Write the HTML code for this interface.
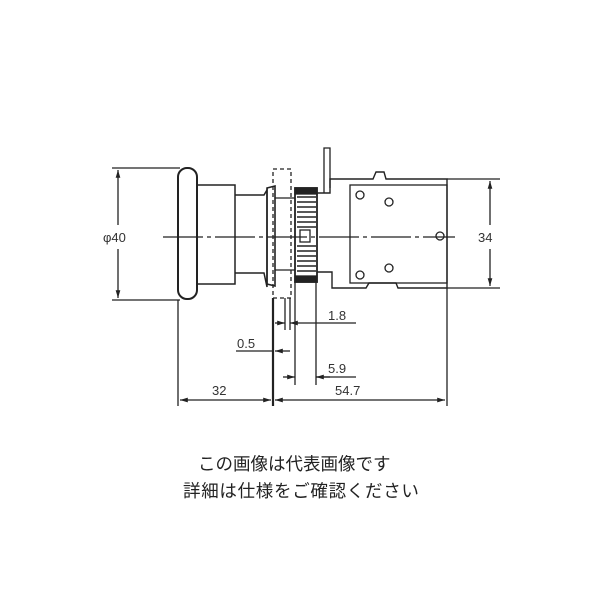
<!DOCTYPE html>
<html><head><meta charset="utf-8"><style>
body{margin:0;background:#fff;width:600px;height:600px;overflow:hidden}
svg{position:absolute;left:0;top:0}
.t{position:absolute;font-family:"Liberation Sans","Noto Sans CJK JP",sans-serif;font-size:17.5px;color:#222;white-space:nowrap;line-height:1}
</style></head><body>
<svg width="600" height="600" viewBox="0 0 600 600" fill="none" stroke="#222" stroke-width="1.3">
<defs><marker id="a" viewBox="0 0 10 10" refX="10" refY="5" markerWidth="6" markerHeight="6" orient="auto-start-reverse"><path d="M0,2L10,5L0,8z" fill="#222" stroke="none"/></marker></defs>
<rect x="178" y="168" width="19" height="131" rx="9" stroke-width="2"/>
<rect x="197" y="185" width="38" height="99" stroke-width="1.5"/>
<path d="M235 195H264L267 190V287L264 273H235" stroke-width="1.5"/>
<path d="M267 188L275 186V286L267 284Z" stroke-width="1.6"/>
<rect x="273" y="169" width="18" height="129" stroke-dasharray="4,3"/>
<path d="M275 198H295M275 270H295"/>
<rect x="295" y="188" width="22" height="94" stroke-width="1.8"/>
<rect x="295" y="188" width="22" height="6" fill="#222"/>
<rect x="295" y="276" width="22" height="6" fill="#222"/>
<g stroke-width="1.5">
<path d="M297 197H316M297 202H316M297 207H316M297 212H316M297 217H316M297 222H316M297 227H316M297 246H316M297 251H316M297 256H316M297 261H316M297 266H316M297 271H316"/>
</g>
<rect x="300" y="230" width="10" height="12"/>
<path d="M324 193V148H330V188"/>
<path d="M317 193H330V179H373L376 172H384L386 179H396L398 179H447V288H398L396 283H369L366 288H332V272H317" stroke-width="1.4"/>
<rect x="350" y="185" width="97" height="98" stroke-width="1.3"/>
<g stroke-width="1.3"><circle cx="360" cy="195" r="4"/><circle cx="389" cy="202" r="4"/><circle cx="360" cy="275" r="4"/><circle cx="389" cy="268" r="4"/><circle cx="440" cy="236" r="4"/></g>
<path d="M163 237H455" stroke-dasharray="40,4,4,4" stroke-width="1.2"/>
<path d="M112 168H180M112 300H180"/>
<path d="M118 225V170" marker-end="url(#a)"/><path d="M118 249V298" marker-end="url(#a)"/>
<path d="M447 179H500M447 288H500"/>
<path d="M490 225V181" marker-end="url(#a)"/><path d="M490 249V286" marker-end="url(#a)"/>
<path d="M178 300V406M447 288V406M290 298V330M285 298V330M295 282V385M316 282V385"/>
<path d="M273 298V406" stroke-width="2.2"/>
<path d="M180 400H271" marker-start="url(#a)" marker-end="url(#a)"/>
<path d="M275 400H445" marker-start="url(#a)" marker-end="url(#a)"/>
<path d="M275 323H285" marker-end="url(#a)"/><path d="M300 323H290" marker-end="url(#a)"/><path d="M300 323H356"/>
<path d="M236 351H273" /><path d="M290 351H275" marker-end="url(#a)"/>
<path d="M283 377H295" marker-end="url(#a)"/><path d="M330 377H316" marker-end="url(#a)"/><path d="M316 377H356"/>
<g font-family="Liberation Sans,sans-serif" font-size="13" fill="#333" stroke="none">
<text x="103" y="242">φ40</text>
<text x="478" y="242">34</text>
<text x="212" y="395">32</text>
<text x="335" y="395">54.7</text>
<text x="328" y="320">1.8</text>
<text x="237" y="348">0.5</text>
<text x="328" y="373">5.9</text>
</g>
</svg>
<div class="t" style="left:198px;top:456px">この画像は代表画像です</div>
<div class="t" style="left:183px;top:483px;letter-spacing:0.7px">詳細は仕様をご確認ください</div>
</body></html>
